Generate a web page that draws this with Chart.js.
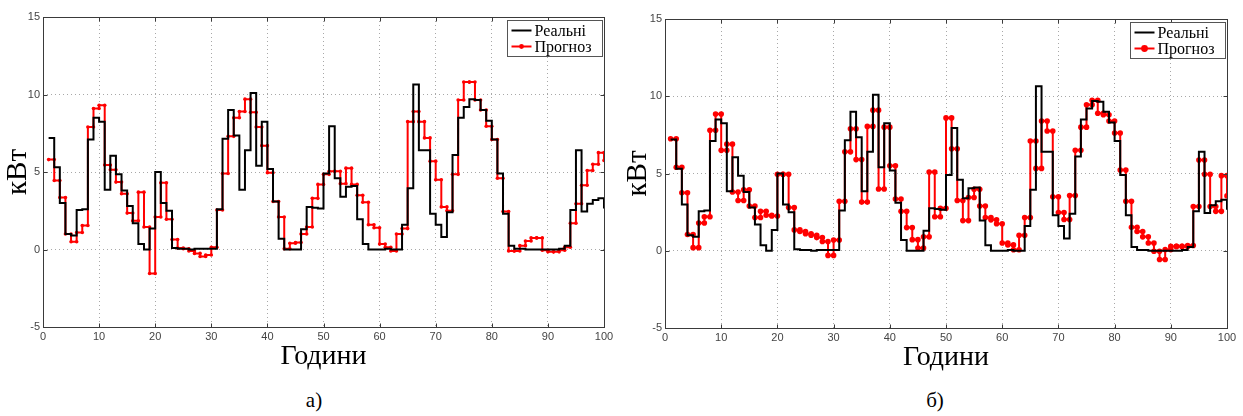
<!DOCTYPE html>
<html><head><meta charset="utf-8">
<script src="https://cdn.jsdelivr.net/npm/chart.js@4.4.1/dist/chart.umd.min.js"></script>
<style>
body{margin:0;background:#fff;}
#wrap{position:relative;width:1243px;height:416px;overflow:hidden;background:#fff;}
canvas{position:absolute;top:0;}
.cap{position:absolute;font-family:"Liberation Serif",serif;font-size:21px;color:#000;transform:translateX(-50%);top:388px;line-height:24px;}
</style></head><body>
<div id="wrap">
<canvas id="cA" width="620" height="380" style="left:0"></canvas>
<canvas id="cB" width="623" height="380" style="left:620px"></canvas>
<div class="cap" style="left:314px">а)</div>
<div class="cap" style="left:935px">б)</div>
</div>
<script>
// hours 1..100
const hours = [];
for (let h = 1; h <= 100; h++) hours.push(h);

const realLoad = [7.2,5.3,3.0,1.0,0.9,2.55,2.6,7.1,8.5,8.25,
  3.85,6.05,4.85,3.8,2.8,1.7,0.35,0.0,1.35,5.0,
  3.0,2.5,0.1,0.05,0.05,0.0,0.05,0.05,0.05,0.05,
  2.6,7.15,9.0,7.35,3.85,6.4,10.1,5.4,8.25,5.2,
  3.1,0.7,0.0,0.0,0.0,1.3,2.75,2.7,2.65,4.9,
  7.95,4.6,3.4,4.05,4.1,1.95,0.35,0.0,0.0,0.0,
  0.05,0.0,0.0,1.6,3.95,10.65,6.4,6.4,2.3,1.6,
  0.8,2.4,6.1,8.5,9.2,9.7,9.65,9.0,8.3,7.1,
  4.9,2.3,0.25,0.05,0.05,0.0,0.0,0.0,0.0,0.0,
  0.0,0.05,0.25,2.55,6.4,2.45,2.95,3.2,3.3,2.65];

const forecastA = [5.8,4.45,3.35,1.0,0.5,1.1,1.55,7.9,9.1,9.3,
  5.45,5.15,4.35,3.6,2.35,1.85,3.7,1.45,-1.55,2.1,
  4.3,1.95,0.65,0.1,0.05,-0.1,-0.25,-0.45,-0.35,0.15,
  2.55,4.9,7.3,8.5,8.9,9.7,8.85,7.9,6.7,4.95,
  3.1,2.1,0.05,0.4,0.45,1.0,1.45,3.3,4.2,4.85,
  5.05,5.05,4.25,5.25,4.2,3.5,3.05,1.6,1.4,0.35,
  0.15,-0.1,1.0,1.35,8.25,8.9,8.25,7.2,5.7,4.5,
  2.75,2.5,4.85,9.65,10.8,10.8,9.65,9.0,7.95,7.1,
  4.6,2.45,-0.1,-0.1,0.25,0.55,0.75,0.75,-0.05,-0.15,
  -0.15,-0.05,0.15,1.7,2.95,4.15,5.1,5.5,6.25,5.75];

const forecastB = [7.25,5.4,3.75,1.05,0.2,1.8,2.2,7.8,8.85,6.5,
  6.9,3.8,3.25,3.95,2.9,2.15,2.55,2.3,2.25,4.95,
  4.95,2.8,1.35,1.25,1.1,1.0,0.85,0.6,-0.3,0.7,
  3.2,6.4,7.9,5.9,3.15,8.05,9.1,4.0,8.0,5.5,
  3.35,2.55,1.5,0.72,0.17,0.9,5.1,2.2,2.75,8.6,
  6.6,3.25,1.95,3.45,3.98,2.9,2.15,2.0,1.75,0.5,
  0.38,0.06,1.0,2.15,7.1,5.33,8.4,7.75,3.5,2.48,
  2.02,3.57,6.5,8.0,9.45,9.74,8.9,8.8,8.4,7.62,
  5.22,3.2,1.52,1.25,0.9,0.5,-0.03,-0.57,0.07,0.28,
  0.28,0.28,0.34,2.86,5.87,4.95,2.86,2.55,4.86,3.55];

const xTicks = [0,10,20,30,40,50,60,70,80,90,100];
const yTicks = [-5,0,5,10,15];
const seriesNames = ['Реальні', 'Прогноз'];
const xTitle = 'Години';
const yTitle = 'кВт';

// stairs: each value holds from hour h to h+1 (markers on both corners)
function stairsPoints(vals) {
  const pts = [];
  for (let i = 0; i < vals.length; i++) {
    pts.push({x: hours[i], y: vals[i]});
    if (i < vals.length - 1) pts.push({x: hours[i] + 1, y: vals[i]});
  }
  return pts;
}

const framePlugin = {
  id: 'frameLegend',
  afterDraw(chart, args, opts) {
    const {ctx, chartArea: a} = chart;
    ctx.save();
    const L = Math.round(a.left) + 0.5, T = Math.round(a.top) + 0.5;
    const R = Math.round(a.right) + 0.5, B = Math.round(a.bottom) + 0.5;
    ctx.strokeStyle = '#3a3a3a';
    ctx.lineWidth = 1;
    ctx.strokeRect(L, T, R - L, B - T);
    const xs = chart.scales.x, ys = chart.scales.y;
    ctx.beginPath();
    xTicks.forEach(v => {
      const px = Math.round(xs.getPixelForValue(v)) + 0.5;
      ctx.moveTo(px, B); ctx.lineTo(px, B - 4);
      ctx.moveTo(px, T); ctx.lineTo(px, T + 4);
    });
    yTicks.forEach(v => {
      const py = Math.round(ys.getPixelForValue(v)) + 0.5;
      ctx.moveTo(L, py); ctx.lineTo(L + 4, py);
      ctx.moveTo(R, py); ctx.lineTo(R - 4, py);
    });
    ctx.stroke();
    const bw = 95, bh = 36;
    const bx = Math.round(a.right) - 2 - bw + 0.5, by = Math.round(a.top) + 3 + 0.5;
    ctx.fillStyle = '#fff';
    ctx.fillRect(bx, by, bw, bh);
    ctx.strokeStyle = '#555';
    ctx.strokeRect(bx, by, bw, bh);
    const rows = [by + 10, by + 26];
    ctx.lineWidth = 2;
    ctx.strokeStyle = '#000';
    ctx.beginPath(); ctx.moveTo(bx + 4, rows[0]); ctx.lineTo(bx + 24, rows[0]); ctx.stroke();
    ctx.strokeStyle = '#ff0000';
    ctx.beginPath(); ctx.moveTo(bx + 4, rows[1]); ctx.lineTo(bx + 24, rows[1]); ctx.stroke();
    ctx.fillStyle = '#ff0000';
    ctx.beginPath(); ctx.arc(bx + 14, rows[1], opts.r, 0, Math.PI * 2); ctx.fill();
    ctx.fillStyle = '#000';
    ctx.font = '16px "Liberation Serif", serif';
    ctx.textBaseline = 'middle';
    ctx.textAlign = 'left';
    ctx.fillText(seriesNames[0], bx + 27, rows[0] + 1);
    ctx.fillText(seriesNames[1], bx + 27, rows[1] + 1);
    ctx.restore();
  }
};

function makeChart(id, forecast, g) {
  const canvas = document.getElementById(id);
  return new Chart(canvas, {
    type: 'line',
    data: {
      datasets: [
        {
          label: seriesNames[0],
          data: realLoad.map((v, i) => ({x: hours[i], y: v})),
          stepped: 'before',
          borderColor: '#000',
          borderWidth: 2,
          pointRadius: 0,
          fill: false
        },
        {
          label: seriesNames[1],
          data: stairsPoints(forecast),
          borderColor: '#ff0000',
          backgroundColor: '#ff0000',
          borderWidth: 2,
          pointRadius: g.r,
          pointBorderWidth: 0,
          pointBackgroundColor: '#ff0000',
          tension: 0,
          fill: false
        }
      ]
    },
    options: {
      responsive: false,
      animation: false,
      devicePixelRatio: 1,
      layout: {padding: {top: g.top, right: g.right, left: 0, bottom: 0}},
      plugins: {legend: {display: false}, tooltip: {enabled: false}, frameLegend: {r: g.r + 0.6}},
      scales: {
        x: {
          type: 'linear', min: 0, max: 100,
          afterFit: s => { s.height = g.xh; },
          afterBuildTicks: s => { s.ticks = xTicks.map(v => ({value: v})); },
          grid: {color: '#a8a8a8', lineWidth: 1, drawTicks: false},
          border: {display: false, dash: [1, 3]},
          ticks: {font: {family: '"Liberation Sans", Arial, sans-serif', size: 11}, color: '#444', padding: 3, maxRotation: 0, autoSkip: false},
          title: {display: true, text: xTitle, font: {family: '"Liberation Serif", serif', size: 28, lineHeight: 1.2}, color: '#000', padding: {top: 0, bottom: g.xtp}}
        },
        y: {
          type: 'linear', min: -5, max: 15,
          afterFit: s => { s.width = g.yw; },
          afterBuildTicks: s => { s.ticks = yTicks.map(v => ({value: v})); },
          grid: {color: '#a8a8a8', lineWidth: 1, drawTicks: false},
          border: {display: false, dash: [1, 3]},
          ticks: {font: {family: '"Liberation Sans", Arial, sans-serif', size: 11}, color: '#444', padding: 3, autoSkip: false},
          title: {display: true, text: yTitle, font: {family: '"Liberation Serif", serif', size: 29, lineHeight: 1.2}, color: '#000', padding: {top: 1, bottom: 0}}
        }
      }
    },
    plugins: [framePlugin]
  });
}

makeChart('cA', forecastA, {top: 17, right: 16, xh: 53, yw: 43, xtp: 7, r: 1.8});
makeChart('cB', forecastB, {top: 19, right: 16, xh: 52, yw: 45, xtp: 6, r: 2.8});
</script>
</body></html>
